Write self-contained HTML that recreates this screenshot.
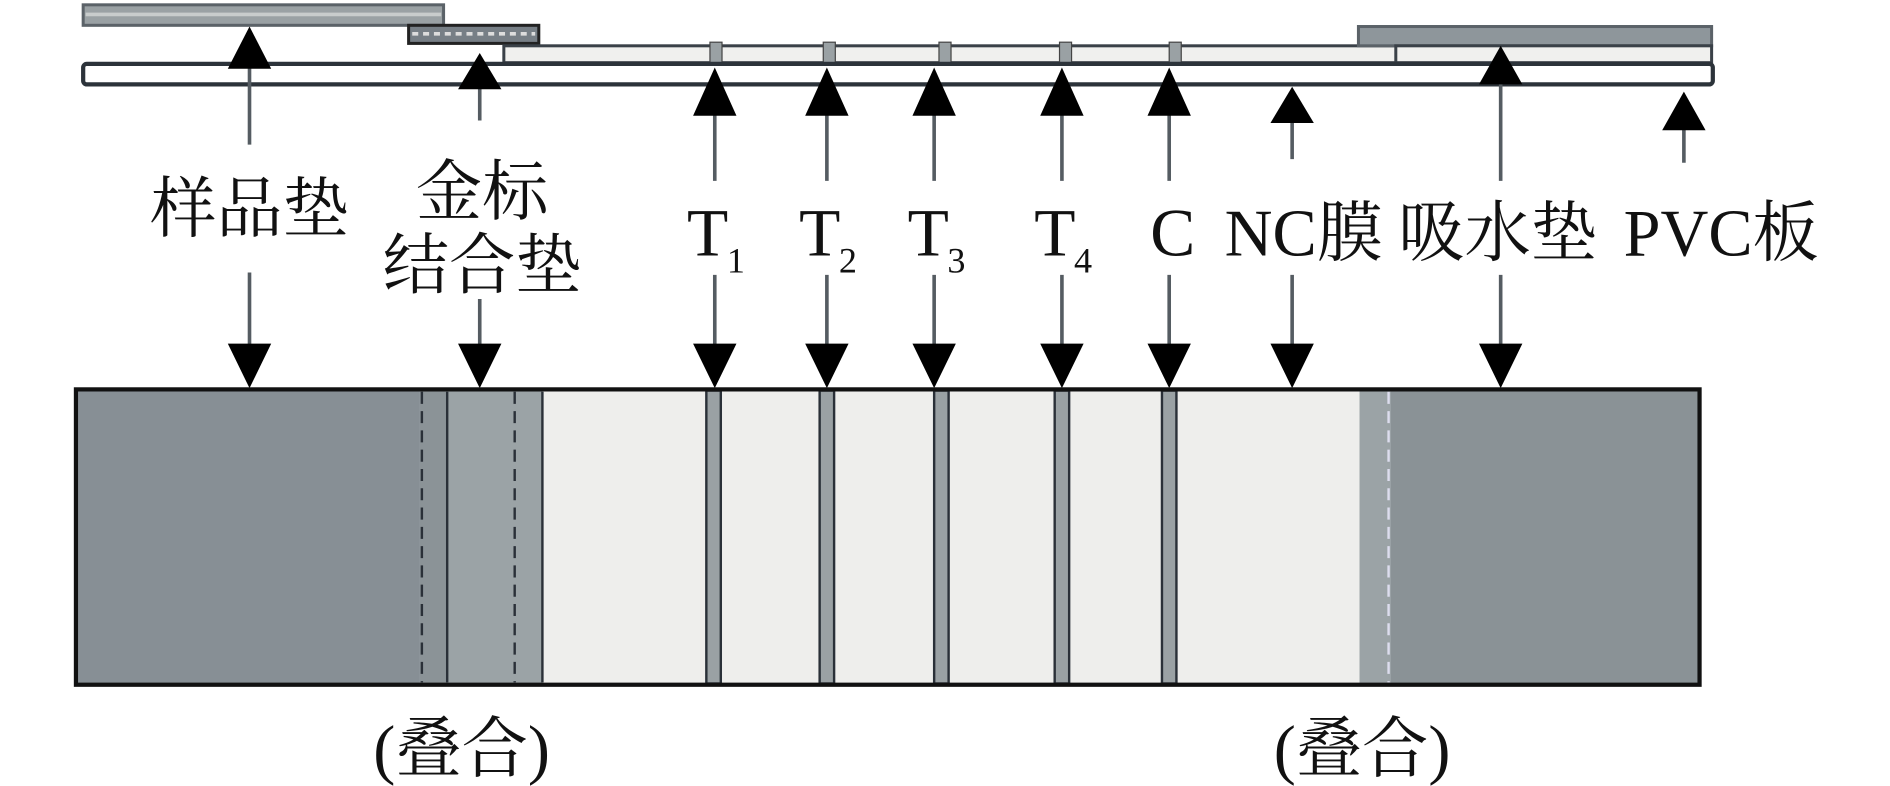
<!DOCTYPE html>
<html><head><meta charset="utf-8"><style>
html,body{margin:0;padding:0;background:#fff;}
svg{display:block;}
text{font-family:"Liberation Serif","Noto Serif CJK SC",serif;fill:#111;}
</style></head><body>
<svg width="1890" height="786" viewBox="0 0 1568 652" preserveAspectRatio="none" xmlns="http://www.w3.org/2000/svg">
<!-- top layered strip -->
<rect x="69" y="4" width="299" height="17" fill="#9aa1a4" stroke="#5b6268" stroke-width="2.5"/>
<line x1="71" y1="12" x2="366" y2="12" stroke="#c8cccc" stroke-width="3"/>
<rect x="339" y="21" width="108" height="15" fill="#777f86" stroke="#222" stroke-width="2.5"/>
<line x1="342" y1="28" x2="444" y2="28" stroke="#ddd" stroke-width="3" stroke-dasharray="5,4"/>
<rect x="418" y="38" width="742" height="14" fill="#f0f0ee" stroke="#3a4148" stroke-width="2.5"/>
<g fill="#9aa1a4" stroke="#444" stroke-width="1">
<rect x="589" y="35" width="10" height="17"/><rect x="683" y="35" width="10" height="17"/><rect x="779" y="35" width="10" height="17"/><rect x="879" y="35" width="10" height="17"/><rect x="970" y="35" width="10" height="17"/>
</g>
<rect x="1127" y="22" width="293" height="16" fill="#8e969b" stroke="#5b6268" stroke-width="2.5"/>
<rect x="1158" y="38" width="262" height="14" fill="#f0f0ee" stroke="#3a4148" stroke-width="2.5"/>
<rect x="69" y="53" width="1352" height="17" rx="3" fill="#fff" stroke="#2c333a" stroke-width="3.5"/>
<!-- up arrows -->
<g stroke="#555c62" stroke-width="3" fill="#000">
<line x1="207" y1="50" x2="207" y2="120"/><polygon points="207,22 189,57 225,57" stroke="none"/>
<line x1="398" y1="65" x2="398" y2="100"/><polygon points="398,44 380,74 416,74" stroke="none"/>
<line x1="593" y1="85" x2="593" y2="150"/><polygon points="593,56 575,96 611,96" stroke="none"/>
<line x1="686" y1="85" x2="686" y2="150"/><polygon points="686,56 668,96 704,96" stroke="none"/>
<line x1="775" y1="85" x2="775" y2="150"/><polygon points="775,56 757,96 793,96" stroke="none"/>
<line x1="881" y1="85" x2="881" y2="150"/><polygon points="881,56 863,96 899,96" stroke="none"/>
<line x1="970" y1="85" x2="970" y2="150"/><polygon points="970,56 952,96 988,96" stroke="none"/>
<line x1="1072" y1="95" x2="1072" y2="132"/><polygon points="1072,72 1054,102 1090,102" stroke="none"/>
<line x1="1245" y1="60" x2="1245" y2="150"/><polygon points="1245,38 1227,70 1263,70" stroke="none"/>
<line x1="1397" y1="100" x2="1397" y2="135"/><polygon points="1397,76 1379,108 1415,108" stroke="none"/>
</g>
<!-- down arrows -->
<g stroke="#555c62" stroke-width="3" fill="#000">
<line x1="207" y1="226" x2="207" y2="295"/><polygon points="189,285 225,285 207,322" stroke="none"/>
<line x1="398" y1="248" x2="398" y2="295"/><polygon points="380,285 416,285 398,322" stroke="none"/>
<line x1="593" y1="228" x2="593" y2="295"/><polygon points="575,285 611,285 593,322" stroke="none"/>
<line x1="686" y1="228" x2="686" y2="295"/><polygon points="668,285 704,285 686,322" stroke="none"/>
<line x1="775" y1="228" x2="775" y2="295"/><polygon points="757,285 793,285 775,322" stroke="none"/>
<line x1="881" y1="228" x2="881" y2="295"/><polygon points="863,285 899,285 881,322" stroke="none"/>
<line x1="970" y1="228" x2="970" y2="295"/><polygon points="952,285 988,285 970,322" stroke="none"/>
<line x1="1072" y1="228" x2="1072" y2="295"/><polygon points="1054,285 1090,285 1072,322" stroke="none"/>
<line x1="1245" y1="228" x2="1245" y2="295"/><polygon points="1227,285 1263,285 1245,322" stroke="none"/>
</g>
<!-- labels -->
<g font-size="55">
<text x="207" y="192" text-anchor="middle">样品垫</text>
<text x="400" y="178" text-anchor="middle">金标</text>
<text x="400" y="239" text-anchor="middle">结合垫</text>
<text x="570" y="212" font-size="56">T</text><text x="603" y="226" font-size="30">1</text>
<text x="663" y="212" font-size="56">T</text><text x="696" y="226" font-size="30">2</text>
<text x="753" y="212" font-size="56">T</text><text x="786" y="226" font-size="30">3</text>
<text x="858" y="212" font-size="56">T</text><text x="891" y="226" font-size="30">4</text>
<text x="973" y="212" text-anchor="middle" font-size="56">C</text>
<text x="1016" y="212">NC膜</text>
<text x="1160" y="212">吸水垫</text>
<text x="1347" y="212">PVC板</text>
<text x="383" y="640" text-anchor="middle">(叠合)</text>
<text x="1130" y="640" text-anchor="middle">(叠合)</text>
</g>
<!-- main strip -->
<rect x="63" y="323" width="1347" height="245" fill="#eeeeec"/>
<rect x="63" y="323" width="285" height="245" fill="#878f95"/>
<rect x="348" y="323" width="102" height="245" fill="#9ba3a6"/>
<rect x="348" y="323" width="22" height="245" fill="#8b9397"/>
<rect x="1128" y="323" width="282" height="245" fill="#8a9296"/>
<rect x="1128" y="323" width="26" height="245" fill="#9ba3a6"/>
<g stroke="#2a3038" stroke-width="2">
<line x1="350" y1="325" x2="350" y2="566" stroke-dasharray="10,6"/>
<line x1="427" y1="325" x2="427" y2="566" stroke-dasharray="10,6"/>
<line x1="1152" y1="325" x2="1152" y2="566" stroke-dasharray="10,6" stroke="#dde"/>
<line x1="371" y1="325" x2="371" y2="566"/>
<line x1="450" y1="325" x2="450" y2="566"/>
</g>
<g fill="#9aa1a4" stroke="#2a3038" stroke-width="2">
<rect x="586" y="324" width="12" height="243"/>
<rect x="680" y="324" width="12" height="243"/>
<rect x="775" y="324" width="12" height="243"/>
<rect x="875" y="324" width="12" height="243"/>
<rect x="964" y="324" width="12" height="243"/>
</g>
<rect x="63" y="323" width="1347" height="245" fill="none" stroke="#111" stroke-width="3.5"/>
</svg>
</body></html>
